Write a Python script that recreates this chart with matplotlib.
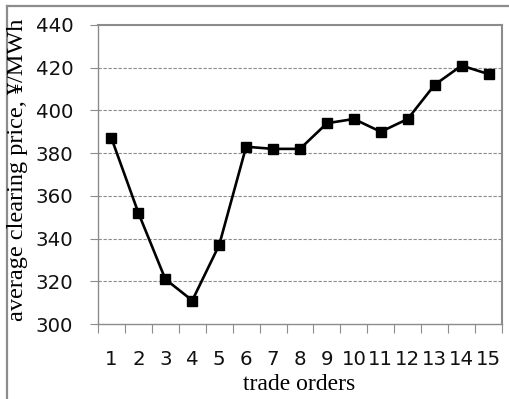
import matplotlib
matplotlib.use("Agg")
import matplotlib.pyplot as plt
from matplotlib.lines import Line2D
import numpy as np

orders = list(range(1, 16))
order_labels = [str(i) for i in orders]
prices = [387, 352, 321, 311, 337, 383, 382, 382, 394, 396, 390, 396, 412, 421, 417]
yticks = [300, 320, 340, 360, 380, 400, 420, 440]

fig = plt.figure(figsize=(5.10, 3.99), dpi=100)
ax = fig.add_axes([98/510, 1-324/399, (502-98)/510, (324-25)/399])

gray = "#8c8c8c"
ax.plot(orders, prices, color="black", lw=1.9, marker="s", markersize=7.2,
        markerfacecolor="black", markeredgecolor="black", zorder=3)

ax.set_xlim(0.5, 15.5)
ax.set_ylim(300, 440)
ax.set_yticks(yticks)
ax.set_yticklabels([str(v) for v in yticks], fontfamily="DejaVu Sans", fontsize=14.2, color="#111111")

ax.set_xticks(np.arange(0.5, 16, 1.0))
ax.set_xticklabels([])
ax.set_xticks(orders, minor=True)
ax.set_xticklabels(order_labels, minor=True, fontfamily="DejaVu Sans", fontsize=14.2, color="#111111")
ax.tick_params(axis="x", which="minor", length=0, pad=19)
ax.tick_params(axis="x", which="major", length=6.5, width=0.8, color=gray, direction="out")
ax.tick_params(axis="y", which="major", length=5.8, width=0.8, color=gray, direction="out", pad=12)

for v in yticks[1:-1]:
    ax.axhline(v, color=gray, lw=0.8, ls=(0, (3, 1.5)), zorder=1)

for s in ax.spines.values():
    s.set_color(gray)
    s.set_linewidth(1.0)
ax.spines["right"].set_linewidth(1.5)
ax.spines["top"].set_linewidth(1.5)

fig.text(299/510, 1-385/399, "trade orders", fontfamily="Liberation Serif", fontsize=17,
         ha="center", va="center", color="black")
fig.text(18/510, 1-170/399, "average clearing price, \u00a5/MWh", fontfamily="Liberation Serif",
         fontsize=17.5, rotation=90, ha="center", va="center", color="black")

# outer frame (top and left edges visible)
fig.add_artist(Line2D([7/510, 1.0], [1-6/399, 1-6/399], transform=fig.transFigure, color=gray, lw=1.6))
fig.add_artist(Line2D([7/510, 7/510], [0.0, 1-6/399], transform=fig.transFigure, color=gray, lw=1.6))

fig.savefig("out.png", dpi=100)
